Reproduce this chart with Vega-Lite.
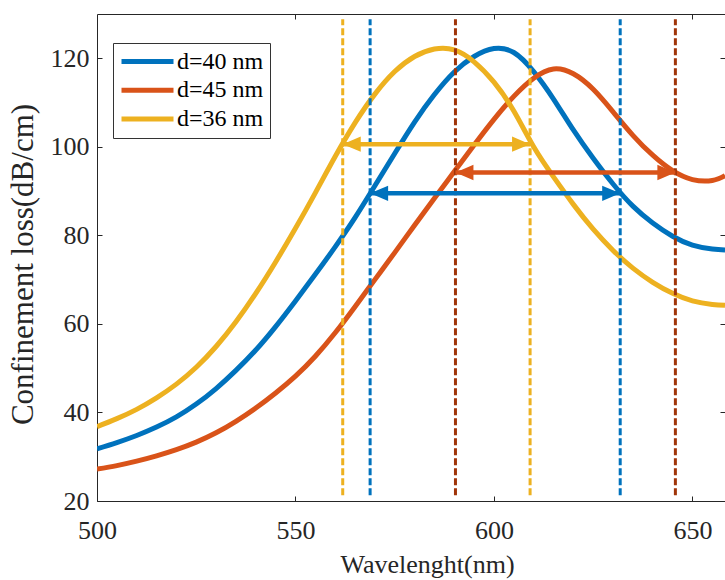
{
  "$schema": "https://vega.github.io/schema/vega-lite/v6.json",
  "width": 628,
  "height": 487,
  "autosize": "none",
  "padding": {"left": 97, "top": 14, "right": 0, "bottom": 79},
  "config": {
    "view": {"stroke": null},
    "font": "Liberation Serif",
    "axis": {"grid": false, "labelFlush": false, "domainColor": "#262626", "tickColor": "#262626", "labelColor": "#262626", "titleColor": "#262626", "labelFont": "Liberation Serif", "titleFont": "Liberation Serif", "titleFontWeight": "normal"}
  },
  "datasets": {
    "curves": [
      {"s": "d=40 nm", "w": 500, "v": 31.8}, {"s": "d=40 nm", "w": 505, "v": 33.2}, {"s": "d=40 nm", "w": 510, "v": 34.8}, {"s": "d=40 nm", "w": 515, "v": 36.7}, {"s": "d=40 nm", "w": 520, "v": 39.0}, {"s": "d=40 nm", "w": 525, "v": 41.9}, {"s": "d=40 nm", "w": 530, "v": 45.4}, {"s": "d=40 nm", "w": 535, "v": 49.5}, {"s": "d=40 nm", "w": 540, "v": 54.1}, {"s": "d=40 nm", "w": 545, "v": 59.4}, {"s": "d=40 nm", "w": 550, "v": 65.2}, {"s": "d=40 nm", "w": 555, "v": 71.2}, {"s": "d=40 nm", "w": 560, "v": 77.4}, {"s": "d=40 nm", "w": 565, "v": 84.0}, {"s": "d=40 nm", "w": 570, "v": 91.2}, {"s": "d=40 nm", "w": 575, "v": 98.5}, {"s": "d=40 nm", "w": 580, "v": 105.6}, {"s": "d=40 nm", "w": 585, "v": 111.8}, {"s": "d=40 nm", "w": 590, "v": 116.9}, {"s": "d=40 nm", "w": 595, "v": 120.4}, {"s": "d=40 nm", "w": 600, "v": 122.2}, {"s": "d=40 nm", "w": 605, "v": 121.3}, {"s": "d=40 nm", "w": 610, "v": 117.0}, {"s": "d=40 nm", "w": 615, "v": 110.8}, {"s": "d=40 nm", "w": 620, "v": 103.8}, {"s": "d=40 nm", "w": 625, "v": 97.4}, {"s": "d=40 nm", "w": 630, "v": 91.6}, {"s": "d=40 nm", "w": 635, "v": 86.6}, {"s": "d=40 nm", "w": 640, "v": 82.8}, {"s": "d=40 nm", "w": 645, "v": 79.8}, {"s": "d=40 nm", "w": 650, "v": 77.8}, {"s": "d=40 nm", "w": 655, "v": 76.9}, {"s": "d=40 nm", "w": 658.2, "v": 76.7},
      {"s": "d=45 nm", "w": 500, "v": 27.2}, {"s": "d=45 nm", "w": 505, "v": 28.0}, {"s": "d=45 nm", "w": 510, "v": 29.0}, {"s": "d=45 nm", "w": 515, "v": 30.2}, {"s": "d=45 nm", "w": 520, "v": 31.6}, {"s": "d=45 nm", "w": 525, "v": 33.3}, {"s": "d=45 nm", "w": 530, "v": 35.4}, {"s": "d=45 nm", "w": 535, "v": 38.0}, {"s": "d=45 nm", "w": 540, "v": 41.0}, {"s": "d=45 nm", "w": 545, "v": 44.4}, {"s": "d=45 nm", "w": 550, "v": 48.2}, {"s": "d=45 nm", "w": 555, "v": 52.7}, {"s": "d=45 nm", "w": 560, "v": 58.0}, {"s": "d=45 nm", "w": 565, "v": 63.9}, {"s": "d=45 nm", "w": 570, "v": 70.0}, {"s": "d=45 nm", "w": 575, "v": 76.1}, {"s": "d=45 nm", "w": 580, "v": 82.3}, {"s": "d=45 nm", "w": 585, "v": 88.4}, {"s": "d=45 nm", "w": 590, "v": 94.4}, {"s": "d=45 nm", "w": 595, "v": 100.4}, {"s": "d=45 nm", "w": 600, "v": 106.2}, {"s": "d=45 nm", "w": 605, "v": 111.4}, {"s": "d=45 nm", "w": 610, "v": 115.5}, {"s": "d=45 nm", "w": 615, "v": 117.6}, {"s": "d=45 nm", "w": 620, "v": 116.5}, {"s": "d=45 nm", "w": 625, "v": 113.0}, {"s": "d=45 nm", "w": 630, "v": 107.9}, {"s": "d=45 nm", "w": 635, "v": 102.6}, {"s": "d=45 nm", "w": 640, "v": 98.1}, {"s": "d=45 nm", "w": 645, "v": 94.6}, {"s": "d=45 nm", "w": 650, "v": 92.6}, {"s": "d=45 nm", "w": 655, "v": 92.4}, {"s": "d=45 nm", "w": 658.2, "v": 93.5},
      {"s": "d=36 nm", "w": 500, "v": 36.8}, {"s": "d=36 nm", "w": 505, "v": 38.6}, {"s": "d=36 nm", "w": 510, "v": 40.7}, {"s": "d=36 nm", "w": 515, "v": 43.3}, {"s": "d=36 nm", "w": 520, "v": 46.4}, {"s": "d=36 nm", "w": 525, "v": 50.2}, {"s": "d=36 nm", "w": 530, "v": 54.9}, {"s": "d=36 nm", "w": 535, "v": 60.5}, {"s": "d=36 nm", "w": 540, "v": 66.9}, {"s": "d=36 nm", "w": 545, "v": 74.0}, {"s": "d=36 nm", "w": 550, "v": 81.6}, {"s": "d=36 nm", "w": 555, "v": 89.6}, {"s": "d=36 nm", "w": 560, "v": 97.8}, {"s": "d=36 nm", "w": 565, "v": 105.4}, {"s": "d=36 nm", "w": 570, "v": 111.9}, {"s": "d=36 nm", "w": 575, "v": 117.0}, {"s": "d=36 nm", "w": 580, "v": 120.4}, {"s": "d=36 nm", "w": 585, "v": 122.1}, {"s": "d=36 nm", "w": 590, "v": 121.9}, {"s": "d=36 nm", "w": 595, "v": 119.2}, {"s": "d=36 nm", "w": 600, "v": 114.6}, {"s": "d=36 nm", "w": 605, "v": 108.1}, {"s": "d=36 nm", "w": 610, "v": 100.0}, {"s": "d=36 nm", "w": 615, "v": 93.2}, {"s": "d=36 nm", "w": 620, "v": 87.0}, {"s": "d=36 nm", "w": 625, "v": 81.4}, {"s": "d=36 nm", "w": 630, "v": 76.6}, {"s": "d=36 nm", "w": 635, "v": 72.6}, {"s": "d=36 nm", "w": 640, "v": 69.4}, {"s": "d=36 nm", "w": 645, "v": 66.9}, {"s": "d=36 nm", "w": 650, "v": 65.2}, {"s": "d=36 nm", "w": 655, "v": 64.4}, {"s": "d=36 nm", "w": 658.2, "v": 64.2}
    ],
    "vlines": [
      {"s": "d=36 nm", "w": 561.9, "lo": 21.3, "hi": 128.8},
      {"s": "d=40 nm", "w": 568.8, "lo": 21.3, "hi": 128.8},
      {"s": "d=45 nm", "w": 590.3, "lo": 21.3, "hi": 128.8},
      {"s": "d=36 nm", "w": 609.1, "lo": 21.3, "hi": 128.8},
      {"s": "d=40 nm", "w": 631.8, "lo": 21.3, "hi": 128.8},
      {"s": "d=45 nm", "w": 645.7, "lo": 21.3, "hi": 128.8}
    ],
    "arrows": [
      {"s": "d=36 nm", "a": 561.9, "b": 609.1, "v": 100.6},
      {"s": "d=45 nm", "a": 590.3, "b": 645.7, "v": 94.2},
      {"s": "d=40 nm", "a": 568.8, "b": 631.8, "v": 89.5}
    ]
  },
  "resolve": {"axis": {"x": "independent", "y": "independent"}},
  "layer": [
    {
      "data": {"name": "curves"},
      "mark": {"type": "line", "strokeWidth": 5, "interpolate": "natural", "clip": true},
      "encoding": {
        "x": {"field": "w", "type": "quantitative", "scale": {"domain": [500, 658.2], "nice": false, "zero": false},
          "axis": {"orient": "bottom", "values": [500, 550, 600, 650], "tickSize": -5, "labelPadding": 21, "labelFontSize": 26, "title": "Wavelenght(nm)", "titleFontSize": 26, "titleX": 330, "titleY": 71, "titleBaseline": "alphabetic", "titleAnchor": "middle"}},
        "y": {"field": "v", "type": "quantitative", "scale": {"domain": [20, 130], "nice": false, "zero": false},
          "axis": {"orient": "left", "values": [20, 40, 60, 80, 100, 120], "tickSize": -5, "labelPadding": 13, "labelFontSize": 26, "title": "Confinement loss(dB/cm)", "titleFontSize": 31, "titleAngle": 270, "titleX": -65, "titleY": 250, "titleBaseline": "alphabetic", "titleAlign": "center"}},
        "color": {"field": "s", "type": "nominal",
          "scale": {"domain": ["d=40 nm", "d=45 nm", "d=36 nm"], "range": ["#0072BD", "#D95319", "#EDB120"]},
          "legend": {"orient": "none", "legendX": 16, "legendY": 29, "title": null, "symbolType": "stroke", "symbolSize": 2704, "symbolStrokeWidth": 5, "clipHeight": 25, "labelFontSize": 24, "labelFont": "Liberation Serif", "labelColor": "#000000", "labelOffset": 1, "padding": 6, "rowPadding": 3.7, "strokeColor": "#333333", "fillColor": "#ffffff"}}
      }
    },
    {
      "data": {"name": "vlines"},
      "mark": {"type": "rule", "strokeWidth": 3, "strokeDash": [7, 3]},
      "encoding": {
        "x": {"field": "w", "type": "quantitative", "axis": {"orient": "top", "values": [550, 600, 650], "labels": false, "domainColor": "#262626", "tickSize": -5, "title": null}},
        "y": {"field": "lo", "type": "quantitative", "axis": {"orient": "right", "values": [20, 40, 60, 80, 100, 120], "labels": false, "domain": false, "tickSize": -5, "title": null}},
        "y2": {"field": "hi"},
        "stroke": {"field": "s", "type": "nominal", "scale": {"domain": ["d=40 nm", "d=45 nm", "d=36 nm"], "range": ["#0072BD", "#A0350A", "#EDB120"]}, "legend": null}
      }
    },
    {
      "data": {"name": "arrows"},
      "mark": {"type": "rule", "strokeWidth": 4.5},
      "encoding": {
        "x": {"field": "a", "type": "quantitative", "axis": null},
        "x2": {"field": "b"},
        "y": {"field": "v", "type": "quantitative", "axis": null},
        "color": {"field": "s", "type": "nominal"}
      }
    },
    {
      "data": {"name": "arrows"},
      "mark": {"type": "point", "filled": true, "opacity": 1, "size": 324, "shape": "M -1 0 L 1 -0.85 L 1 0.85 Z", "xOffset": 9},
      "encoding": {
        "x": {"field": "a", "type": "quantitative", "axis": null},
        "y": {"field": "v", "type": "quantitative", "axis": null},
        "color": {"field": "s", "type": "nominal"}
      }
    },
    {
      "data": {"name": "arrows"},
      "mark": {"type": "point", "filled": true, "opacity": 1, "size": 324, "shape": "M 1 0 L -1 -0.85 L -1 0.85 Z", "xOffset": -9},
      "encoding": {
        "x": {"field": "b", "type": "quantitative", "axis": null},
        "y": {"field": "v", "type": "quantitative", "axis": null},
        "color": {"field": "s", "type": "nominal"}
      }
    }
  ]
}
